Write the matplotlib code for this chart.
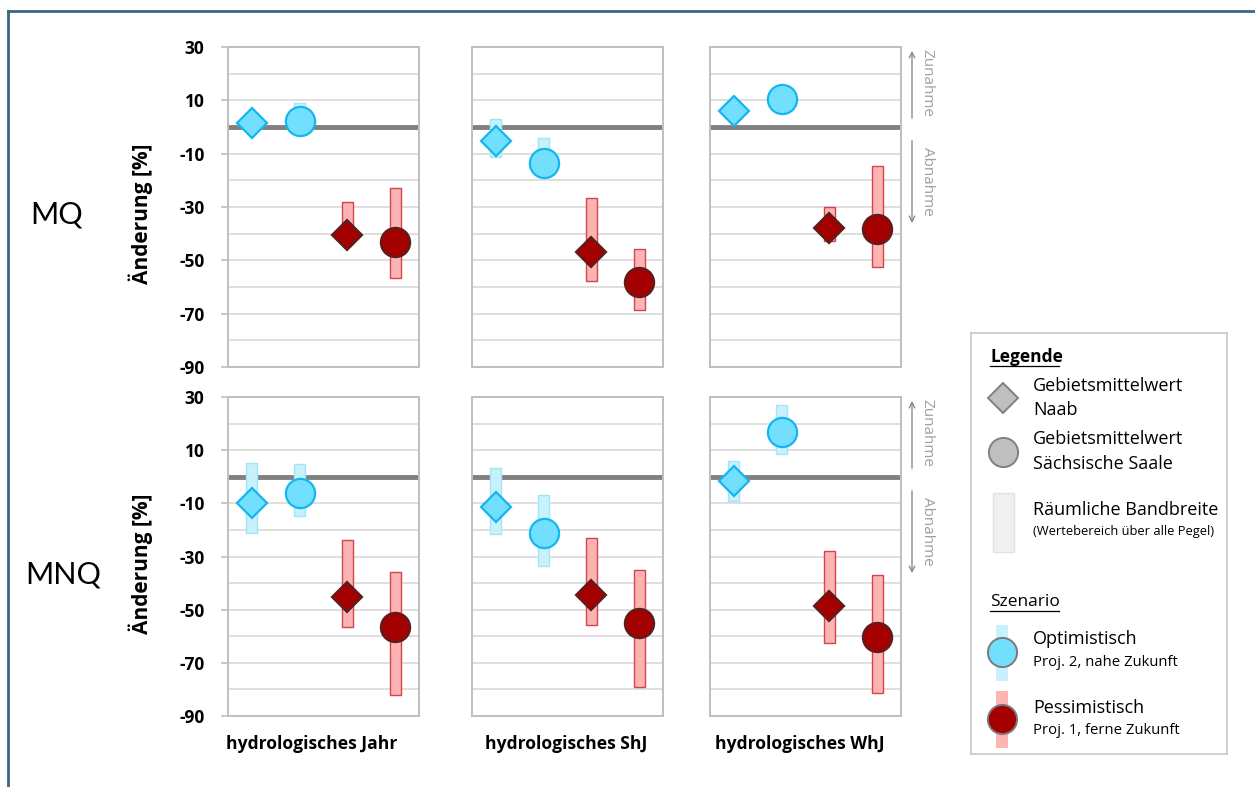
import matplotlib
matplotlib.use("Agg")
import matplotlib.pyplot as plt
from matplotlib.lines import Line2D

plt.rcParams["font.family"] = ["Open Sans", "DejaVu Sans"]
plt.rcParams["axes.unicode_minus"] = False

W, H = 1255, 787

periods = ["hydrologisches Jahr", "hydrologisches ShJ", "hydrologisches WhJ"]
indicators = ["MQ", "MNQ"]
# order in every panel: Naab opt., Saale opt., Naab pess., Saale pess.
is_naab = [True, False, True, False]
is_opt = [True, True, False, False]

mq_mean = [[1.6, 2.2, -40.5, -43.2], [-5.1, -13.6, -46.8, -58.3], [5.9, 10.5, -37.8, -38.3]]
mq_low = [[0.0, -1.0, -44.0, -56.5], [-11.1, -16.0, -57.7, -68.7], [3.5, 8.0, -42.6, -52.5]]
mq_high = [[3.0, 9.1, -28.2, -22.7], [3.0, -4.2, -26.8, -45.9], [8.0, 13.0, -30.0, -14.7]]

mnq_mean = [[-10.0, -6.2, -45.1, -56.6], [-11.2, -21.3, -44.4, -55.2], [-1.7, 17.0, -48.8, -60.3]]
mnq_low = [[-21.3, -14.6, -56.4, -82.1], [-21.5, -33.4, -55.6, -79.0], [-9.1, 8.4, -62.5, -81.3]]
mnq_high = [[5.3, 4.7, -23.8, -35.8], [3.4, -7.0, -22.9, -35.0], [5.9, 27.1, -27.9, -36.9]]

yticks = [30, 10, -10, -30, -50, -70, -90]

# farben
OPT_FILL, OPT_EDGE = "#73dfff", "#14b6ee"
OPT_BAND, OPT_BAND_EDGE = "#c9f1fc", "#a3e6fa"
PES_FILL, PES_EDGE = "#a50000", "#5a1e1e"
PES_BAND, PES_BAND_EDGE = "#ffb4b4", "#d4444c"
GRID = "#d9d9d9"
FRAME = "#bfbfbf"

fig = plt.figure(figsize=(W / 100, H / 100), dpi=100)

rows = [(mq_mean, mq_low, mq_high), (mnq_mean, mnq_low, mnq_high)]
col_x = [228, 472, 710]
row_y = [(47, 367), (397, 716)]
xs = [0.5, 1.5, 2.5, 3.5]
label_pos = [(57, 214), (63, 575)]
xlabel_cx = [312, 566, 800]

for r, (means, lows, highs) in enumerate(rows):
    top, bot = row_y[r]
    for c in range(3):
        ax = fig.add_axes([col_x[c] / W, 1 - bot / H, 191 / W, (bot - top) / H])
        ax.set_xlim(0, 4)
        ax.set_ylim(-90, 30)
        for g in range(-80, 30, 10):
            ax.axhline(g, color=GRID, lw=1.2, zorder=0)
        ax.axhline(0, color="#808080", lw=3.5, zorder=1)
        for i in range(4):
            opt = is_opt[i]
            ax.bar(xs[i], highs[c][i] - lows[c][i], bottom=lows[c][i], width=0.23,
                   color=OPT_BAND if opt else PES_BAND,
                   edgecolor=OPT_BAND_EDGE if opt else PES_BAND_EDGE, lw=1, zorder=2)
            ax.plot(xs[i], means[c][i], marker="D" if is_naab[i] else "o",
                    ms=15.5 if is_naab[i] else 21,
                    mfc=OPT_FILL if opt else PES_FILL,
                    mec=OPT_EDGE if opt else PES_EDGE, mew=1.6, zorder=3)
        for s in ax.spines.values():
            s.set_color(FRAME)
            s.set_linewidth(1.4)
        ax.set_xticks([])
        ax.set_yticks(yticks)
        if c == 0:
            ax.tick_params(axis="y", length=5, width=1.2, color=FRAME, pad=12,
                           labelsize=12.5)
            for lab in ax.get_yticklabels():
                lab.set_fontweight("bold")
        else:
            ax.tick_params(axis="y", length=0, labelleft=False)

    # zeilenbeschriftung
    yc = (top + bot) / 2
    lx, ly = label_pos[r]
    fig.text(lx / W, 1 - ly / H, indicators[r], fontsize=22,
             fontfamily=["Lato"], ha="center", va="center")
    fig.text(141 / W, 1 - (yc + 7) / H, "Änderung [%]", fontsize=15,
             fontweight="bold", rotation=90, ha="center", va="center")

    # zunahme / abnahme
    dy = top - 47
    ax.annotate("", xy=(912, H - (48 + dy)), xytext=(912, H - (121 + dy)),
                xycoords="figure pixels", textcoords="figure pixels",
                arrowprops=dict(arrowstyle="->", color="#8c8c8c", lw=1))
    ax.annotate("", xy=(912, H - (226 + dy)), xytext=(912, H - (138 + dy)),
                xycoords="figure pixels", textcoords="figure pixels",
                arrowprops=dict(arrowstyle="->", color="#8c8c8c", lw=1))
    fig.text(927 / W, 1 - (83 + dy) / H, "Zunahme", rotation=-90, ha="center",
             va="center", fontsize=11, color="#a0a0a0")
    fig.text(927 / W, 1 - (181 + dy) / H, "Abnahme", rotation=-90, ha="center",
             va="center", fontsize=11, color="#a0a0a0")

for c, p in enumerate(periods):
    fig.text(xlabel_cx[c] / W, 1 - 744 / H, p, fontsize=12.6,
             fontweight="bold", ha="center", va="center")

# legende
lg = fig.add_axes([971 / W, 1 - 754 / H, 256 / W, 421 / H])
lg.set_xlim(971, 1227)
lg.set_ylim(754, 333)
lg.set_xticks([])
lg.set_yticks([])
for s in lg.spines.values():
    s.set_color("#c8c8c8")
    s.set_linewidth(1.2)

FS = 13
lg.text(990, 357, "Legende", fontsize=12.5, fontweight="bold", va="center")
lg.plot([990, 1059], [366, 366], color="black", lw=0.9)
lg.plot(1003, 398, marker="D", ms=15.5, mfc="#bfbfbf", mec="#808080", mew=1.4)
lg.text(1033, 386, "Gebietsmittelwert", fontsize=FS, va="center")
lg.text(1033, 410, "Naab", fontsize=FS, va="center")
lg.plot(1003, 452, marker="o", ms=21, mfc="#bfbfbf", mec="#808080", mew=1.4)
lg.text(1033, 439, "Gebietsmittelwert", fontsize=FS, va="center")
lg.text(1033, 464, "Sächsische Saale", fontsize=FS, va="center")
lg.bar(1003.5, 59, bottom=493, width=21, color="#f0f0f0", edgecolor="#e2e2e2", lw=1)
lg.text(1033, 510, "Räumliche Bandbreite", fontsize=FS, va="center")
lg.text(1033, 532, "(Wertebereich über alle Pegel)", fontsize=9.3, va="center")

lg.text(990, 602, "Szenario", fontsize=12.5, va="center")
lg.plot([990, 1059], [611, 611], color="black", lw=0.9)
lg.bar(1002, 56, bottom=625, width=12, color=OPT_BAND, lw=0)
lg.plot(1002, 652, marker="o", ms=21, mfc=OPT_FILL, mec="#7a7a7a", mew=1.4)
lg.text(1033, 639, "Optimistisch", fontsize=FS, va="center")
lg.text(1033, 662, "Proj. 2, nahe Zukunft", fontsize=10.7, va="center")
lg.bar(1002, 57, bottom=691, width=12, color=PES_BAND, lw=0)
lg.plot(1002, 719, marker="o", ms=21, mfc=PES_FILL, mec="#7a7a7a", mew=1.4)
lg.text(1033, 708, "Pessimistisch", fontsize=FS, va="center")
lg.text(1033, 731, "Proj. 1, ferne Zukunft", fontsize=10.7, va="center")

# äußerer rahmen
fig.add_artist(Line2D([7.5 / W, 7.5 / W], [0, 1 - 11 / H], transform=fig.transFigure,
                      color="#3b6781", lw=2))
fig.add_artist(Line2D([7.5 / W, 1], [1 - 11 / H, 1 - 11 / H], transform=fig.transFigure,
                      color="#3b6781", lw=2))

fig.savefig("out.png", dpi=100)
